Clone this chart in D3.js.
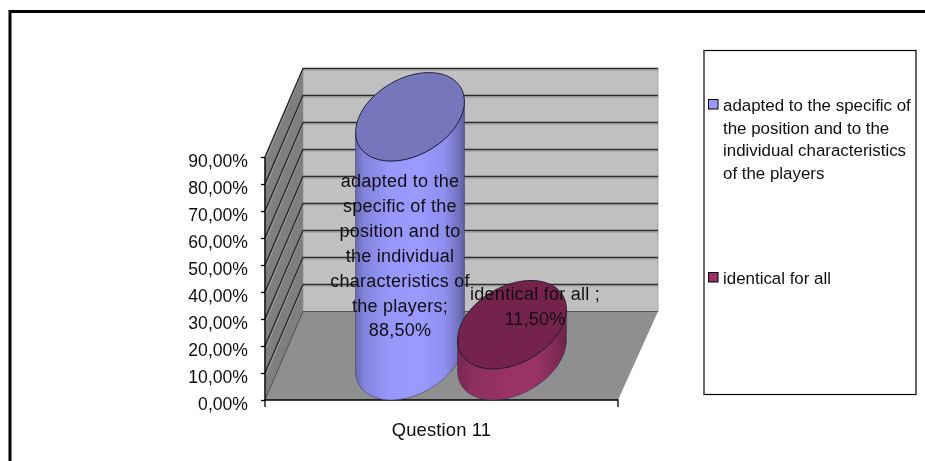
<!DOCTYPE html>
<html><head><meta charset="utf-8">
<script src="https://cdn.jsdelivr.net/npm/d3@7/dist/d3.min.js"></script>
<style>html,body{margin:0;padding:0;background:#fff}svg{display:block}text{font-family:"Liberation Sans",Arial,sans-serif;fill:#111}</style>
</head><body><div id="c"></div>
<script>
const categories = ["Question 11"];
const seriesNames = ["adapted to the specific of the position and to the individual characteristics of the players", "identical for all"];
const seriesValues = [88.5, 11.5];
const yTicks = [0,10,20,30,40,50,60,70,80,90];
const sideStops = [
  [[0,"#6a6ab4"],[.08,"#8383dc"],[.3,"#9797fb"],[.6,"#9999ff"],[.82,"#8f8fef"],[.95,"#7070bc"],[1,"#5c5c9c"]],
  [[0,"#7a2850"],[.12,"#8a2e5c"],[.45,"#993366"],[.7,"#993366"],[.9,"#822b56"],[1,"#6a2346"]]
];
const topColors = ["#7676bd","#74244d"];
const swatchColors = ["#9999ff","#993366"];
const labelLines = [
  ["adapted to the","specific of the","position and to","the individual","characteristics of","the players;","88,50%"],
  ["identical  for all ;","11,50%"]
];
const legendLines = [
  ["adapted to the specific of","the position and to the","individual characteristics","of the players"],
  ["identical for all"]
];

const W=925,H=461;
const svg=d3.select("#c").append("svg").attr("width",W).attr("height",H);
const defs=svg.append("defs");
defs.append("filter").attr("id","soft").append("feGaussianBlur").attr("stdDeviation",0.4);
const root=svg.append("g").attr("filter","url(#soft)");

// frame
root.append("path").attr("d",`M10,${H} V11.5 H${W}`).attr("fill","none").attr("stroke","#000").attr("stroke-width",3);

// scales
const y=d3.scaleLinear().domain([0,90]).range([400,157]);
const x0=265,x1=618,dx=38,dy=-88.5,backExtra=2;
const sx=d3.scaleBand().domain(d3.range(seriesValues.length)).range([x0+dx/2+.5,x1+dx/2+.5]).paddingInner(0).paddingOuter(0.73);
const backR=x1+dx+backExtra;

// walls
root.append("path").attr("d",`M${x0},${y(0)} L${x0+dx},${y(0)+dy} V${y(90)+dy} L${x0},${y(90)} Z`).attr("fill","#7f7f7f").attr("stroke","#666").attr("stroke-width",.8);
root.append("rect").attr("x",x0+dx).attr("y",y(90)+dy).attr("width",backR-x0-dx).attr("height",y(0)-y(90)).attr("fill","#c0c0c0").attr("stroke","#9a9a9a").attr("stroke-width",.8);
root.append("path").attr("d",`M${x0},${y(0)} L${x1},${y(0)} L${backR},${y(0)+dy} H${x0+dx} Z`).attr("fill","#8f8f8f");

// grid lines
yTicks.forEach(t=>{
  if(t>0){
    root.append("path").attr("d",`M${x0+1},${y(t)+2} L${x0+dx},${y(t)+dy+1.8} H${backR}`).attr("fill","none").attr("stroke","#a0a0a0").attr("stroke-width",1);
  }
  root.append("path").attr("d",`M${x0},${y(t)} L${x0+dx},${y(t)+dy} H${backR}`)
    .attr("fill","none").attr("stroke","#2b2b2b").attr("stroke-width",t===0?0.6:1.3);
});

// axes
const yAxis=d3.axisLeft(y).tickValues(yTicks).tickSize(4).tickPadding(13)
  .tickFormat(d=>d3.format(".2f")(d).replace(".",",")+"%");
const gy=root.append("g").attr("transform",`translate(${x0},0)`).call(yAxis);
gy.selectAll("path,line").attr("stroke","#000").attr("stroke-width",1.3);
gy.selectAll("text").attr("font-size",17.6).attr("dy","0.56em").attr("fill","#111");
gy.select(".domain").attr("d",`M0,${y(90)} V${y(0)}`);

const xAxis=d3.axisBottom(d3.scaleBand().domain(categories).range([x0,x1])).tickSize(0).tickPadding(23);
const gx=root.append("g").attr("transform",`translate(0,${y(0)})`).call(xAxis);
gx.select(".domain").attr("d",`M${x0},7 V0 H${x1} V7`).attr("fill","none").attr("stroke","#000").attr("stroke-width",1.3);
gx.selectAll("text").attr("font-size",18.4).attr("fill","#111").style("letter-spacing","0.15px");

// cylinders
const w=sx.bandwidth(), a=w/2, b=dx/2, c=-dy/2;
const t0=Math.atan2(b,a);
const ell=(cx,cy,from,to)=>d3.range(49).map(i=>{
  const t=from+(to-from)*i/48;
  return [cx+a*Math.cos(t)+b*Math.sin(t), cy-c*Math.sin(t)];
});
const line=d3.line();
seriesValues.forEach((v,i)=>{
  const cx=sx(i)+w/2;
  const base=y(0)-c, top=base-(y(0)-y(v));
  const ext=Math.hypot(a,b);
  const g=defs.append("linearGradient").attr("id","side"+i).attr("gradientUnits","userSpaceOnUse")
    .attr("x1",cx-ext).attr("x2",cx+ext).attr("y1",0).attr("y2",0);
  sideStops[i].forEach(s=>g.append("stop").attr("offset",s[0]).attr("stop-color",s[1]));
  const pts=ell(cx,base,t0,t0-Math.PI).concat(ell(cx,top,t0-Math.PI,t0));
  root.append("path").attr("d",line(pts)+"Z").attr("fill",`url(#side${i})`).attr("stroke","#33334d").attr("stroke-width",.5);
  root.append("path").attr("d",line(ell(cx,top,0,2*Math.PI))+"Z").attr("fill",topColors[i]).attr("stroke","#1a1a2a").attr("stroke-width",.9);
});

// data labels
const labelDx=[-10,23], labelY=[187,300], labelStep=24.9;
labelLines.forEach((ls,i)=>{
  const cx=sx(i)+w/2+labelDx[i];
  const t=root.append("text").attr("text-anchor","middle").attr("font-size",18).style("letter-spacing","0.25px");
  ls.forEach((s,j)=>t.append("tspan").attr("x",cx).attr("y",labelY[i]+j*labelStep).text(s));
});

// legend
root.append("rect").attr("x",704).attr("y",50.5).attr("width",212).attr("height",344).attr("fill","#fff").attr("stroke","#000").attr("stroke-width",1.2);
const legY=[111,284];
legendLines.forEach((ls,i)=>{
  root.append("rect").attr("x",708.5).attr("y",legY[i]-11.5).attr("width",9.5).attr("height",9.5).attr("fill",swatchColors[i]).attr("stroke","#000").attr("stroke-width",1);
  const t=root.append("text").attr("font-size",16.9);
  ls.forEach((s,j)=>t.append("tspan").attr("x",723).attr("y",legY[i]+j*22.5).text(s));
});
</script></body></html>
